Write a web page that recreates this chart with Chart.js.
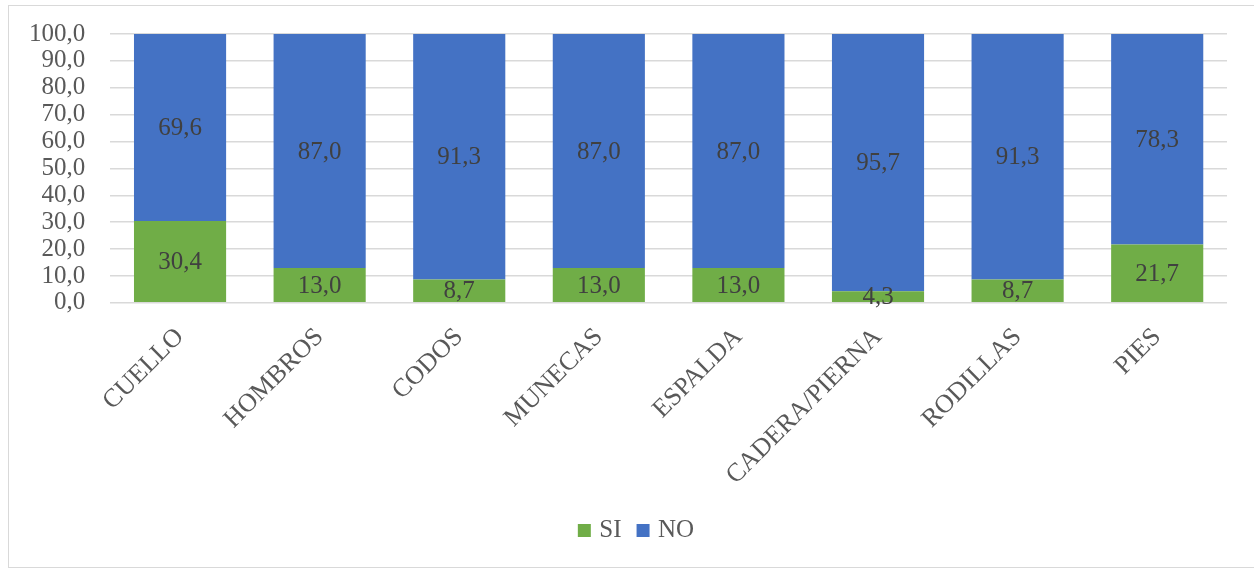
<!DOCTYPE html>
<html>
<head>
<meta charset="utf-8">
<script src="https://cdn.jsdelivr.net/npm/chart.js@4.4.1/dist/chart.umd.min.js"></script>
<style>
  html, body { margin: 0; padding: 0; background: #fff; }
  #box { position: absolute; left: 8px; top: 5px; width: 1250px; height: 563px; border: 1px solid #d9d9d9; box-sizing: border-box; background: #fff; }
  #wrap { position: absolute; left: 0; top: 0; width: 1248px; height: 561px; }
</style>
</head>
<body>
<div id="box"><div id="wrap"><canvas id="c"></canvas></div></div>
<script>
const categories = ['CUELLO', 'HOMBROS', 'CODOS', 'MUNECAS', 'ESPALDA', 'CADERA/PIERNA', 'RODILLAS', 'PIES'];
const siValues = [30.4, 13.0, 8.7, 13.0, 13.0, 4.3, 8.7, 21.7];
const noValues = [69.6, 87.0, 91.3, 87.0, 87.0, 95.7, 91.3, 78.3];
const seriesNames = ['SI', 'NO'];

const FONT = '"Liberation Serif", "Times New Roman", serif';
const fmt = v => Number(v).toFixed(1).replace('.', ',');

const labelPlugin = {
  id: 'barLabels',
  afterDatasetsDraw(chart) {
    const ctx = chart.ctx;
    ctx.save();
    ctx.font = '25px ' + FONT;
    ctx.fillStyle = '#404040';
    ctx.textAlign = 'center';
    ctx.textBaseline = 'middle';
    chart.data.datasets.forEach((ds, i) => {
      const meta = chart.getDatasetMeta(i);
      meta.data.forEach((bar, j) => {
        const y = (bar.y + bar.base) / 2;
        ctx.fillText(fmt(ds.data[j]), bar.x, y + 1);
      });
    });
    ctx.restore();
  }
};

const legendShift = {
  id: 'legendShift',
  afterLayout(chart) {
    if (chart.legend) {
      chart.legend.left += 10;
      chart.legend.right += 10;
    }
  }
};

new Chart(document.getElementById('c'), {
  type: 'bar',
  data: {
    labels: categories,
    datasets: [
      { label: seriesNames[0], data: siValues, backgroundColor: '#70AD47', borderWidth: 0, pointStyle: 'rect' },
      { label: seriesNames[1], data: noValues, backgroundColor: '#4472C4', borderWidth: 0, pointStyle: 'rect' }
    ]
  },
  options: {
    responsive: true,
    maintainAspectRatio: false,
    animation: false,
    layout: { padding: { left: 20, right: 30, top: 28, bottom: 14 } },
    datasets: { bar: { categoryPercentage: 1.0, barPercentage: 0.66 } },
    plugins: {
      legend: {
        position: 'bottom',
        labels: {
          usePointStyle: true,
          pointStyle: 'rect',
          boxWidth: 5, boxHeight: 13, padding: 19,
          color: '#595959',
          font: { family: FONT, size: 25 }
        }
      },
      tooltip: { enabled: false }
    },
    scales: {
      x: {
        stacked: true,
        afterFit: s => { s.height += 8; },
        grid: { display: true, drawOnChartArea: false, drawTicks: true, tickLength: 19, tickColor: 'rgba(0,0,0,0)', color: 'rgba(0,0,0,0)' },
        border: { display: false },
        ticks: {
          color: '#595959',
          font: { family: FONT, size: 26 },
          maxRotation: 45, minRotation: 45,
          padding: 0,
          autoSkip: false
        }
      },
      y: {
        stacked: true,
        min: 0, max: 100,
        grid: { color: '#d9d9d9', lineWidth: 1.5, drawTicks: true, tickLength: 25, tickColor: 'rgba(0,0,0,0)' },
        border: { display: false },
        ticks: {
          stepSize: 10,
          autoSkip: false,
          color: '#595959',
          font: { family: FONT, size: 25 },
          padding: 0,
          callback: v => fmt(v)
        }
      }
    }
  },
  plugins: [labelPlugin, legendShift]
});
</script>
</body>
</html>
